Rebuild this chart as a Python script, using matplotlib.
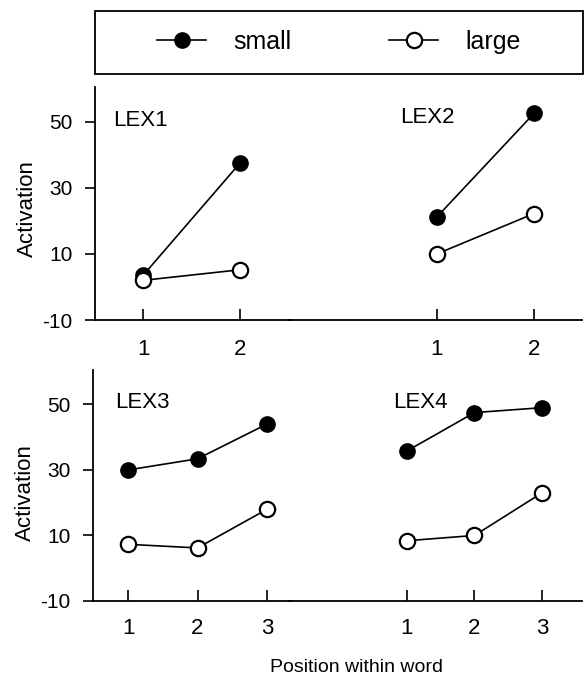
import matplotlib
matplotlib.use('Agg')
import matplotlib.pyplot as plt
from matplotlib.lines import Line2D
from matplotlib.patches import Rectangle

# ── Data ────────────────────────────────────────────────────────────────────
pos_two = [1, 2]
pos_three = [1, 2, 3]

lex1_small = [3.5, 37.5]
lex1_large = [2.0, 5.2]
lex2_small = [21.2, 52.5]
lex2_large = [10.0, 22.2]
lex3_small = [30.0, 33.4, 44.0]
lex3_large = [7.3, 6.2, 18.0]
lex4_small = [35.8, 47.5, 49.0]
lex4_large = [8.4, 10.0, 23.0]

y_ticks = [-10, 10, 30, 50]
panel_names = ['LEX1', 'LEX2', 'LEX3', 'LEX4']

plt.rcParams.update({
    'font.family': ['Liberation Sans', 'DejaVu Sans'],
    'axes.linewidth': 1.3,
    'axes.unicode_minus': False,
})

W, H = 586, 674
fig = plt.figure(figsize=(W / 100, H / 100), dpi=100)


def fx(px):
    return px / W


def fy(px):
    return 1 - px / H


def make_ax(x0, x1, ytop, ybot):
    return fig.add_axes([fx(x0), fy(ybot), fx(x1) - fx(x0), fy(ytop) - fy(ybot)])


# top row: [left, right] panels, bottom row likewise (slight overlap so the
# bottom spines join into one line)
ax1 = make_ax(95, 291, 87, 320)
ax2 = make_ax(289, 582, 87, 320)
ax3 = make_ax(93, 291, 370, 601)
ax4 = make_ax(289, 582, 370, 601)

xlims = [(0.505, 2.525), (-0.525, 2.495), (0.496, 3.345), (-0.748, 3.593)]
series = [
    (pos_two, lex1_small, lex1_large),
    (pos_two, lex2_small, lex2_large),
    (pos_three, lex3_small, lex3_large),
    (pos_three, lex4_small, lex4_large),
]
name_pos = [(0.092, 0.858), (0.38, 0.871), (0.112, 0.861), (0.356, 0.861)]

for i, ax in enumerate([ax1, ax2, ax3, ax4]):
    xs, small, large = series[i]
    ax.plot(xs, small, color='black', lw=1.2, marker='o', ms=11,
            mfc='black', mec='black', zorder=3)
    ax.plot(xs, large, color='black', lw=1.2, marker='o', ms=11,
            mfc='white', mec='black', mew=1.6, zorder=3)
    ax.set_xlim(*xlims[i])
    ax.set_ylim(-10, 60.5)
    ax.set_xticks(xs)
    ax.set_xticklabels([str(v) for v in xs])
    ax.spines['top'].set_visible(False)
    ax.spines['right'].set_visible(False)
    ax.tick_params(axis='x', direction='in', length=8, width=1.2,
                   labelsize=16, pad=14 if i < 2 else 12)
    ax.text(*name_pos[i], panel_names[i], transform=ax.transAxes,
            fontsize=16, va='center', ha='left')
    ax.patch.set_alpha(0)
    if i % 2 == 0:
        ax.set_yticks(y_ticks)
        ax.tick_params(axis='y', direction='out', length=7, width=1.2,
                       labelsize=15, pad=9)
        ax.set_ylabel('Activation', fontsize=16)
        ax.yaxis.set_label_coords(-0.29, 0.48 if i == 0 else 0.47)
    else:
        ax.spines['left'].set_visible(False)
        ax.set_yticks([])

fig.text(fx(357), fy(667), 'Position within word', fontsize=14,
         ha='center', va='center')

# legend box
fig.patches.append(Rectangle((fx(95), fy(74)), fx(583) - fx(95), fy(11) - fy(74),
                             transform=fig.transFigure, fill=False,
                             edgecolor='black', lw=1.3))
handles = [
    Line2D([], [], color='black', lw=1.2, marker='o', ms=11, mfc='black', mec='black'),
    Line2D([], [], color='black', lw=1.2, marker='o', ms=11, mfc='white', mec='black', mew=1.6),
]
fig.legend(handles, ['small', 'large'], loc='center',
           bbox_to_anchor=(fx(339), fy(42)), ncol=2, frameon=False,
           fontsize=18, handlelength=1.96, handletextpad=1.08,
           columnspacing=3.9)

fig.savefig('out.png', dpi=100)
